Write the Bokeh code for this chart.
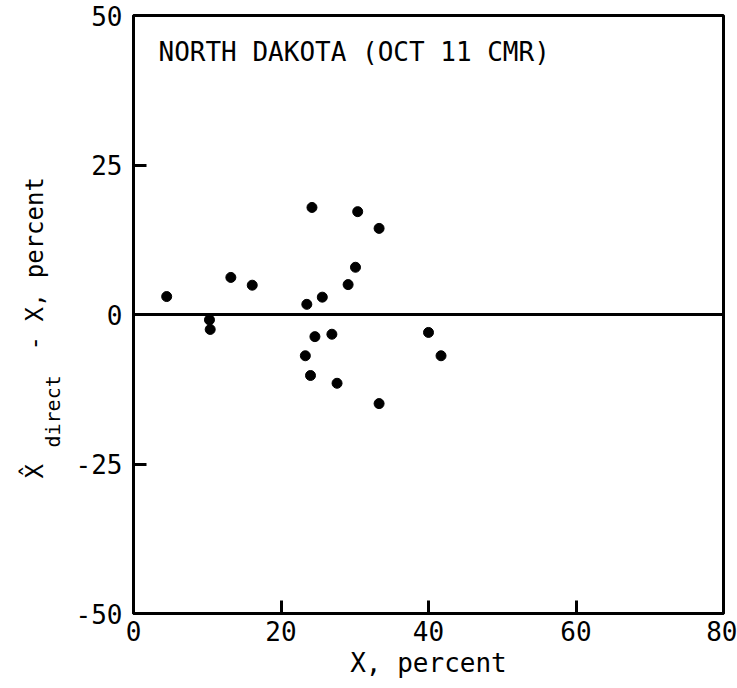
import math
from bokeh.plotting import figure
from bokeh.layouts import row
from bokeh.models import Range1d, FixedTicker, Span, Label
from bokeh.embed import file_html
from bokeh.resources import INLINE

# data
x_pct = [4.5, 10.3, 10.4, 13.2, 16.1, 23.5, 25.6, 29.1, 30.1, 24.2,
         30.4, 33.3, 24.6, 26.9, 23.3, 24.0, 27.6, 33.3, 40.0, 41.7]
diff_pct = [3.0, -0.9, -2.5, 6.2, 4.9, 1.7, 2.9, 5.0, 7.9, 17.9,
            17.2, 14.4, -3.7, -3.3, -6.9, -10.2, -11.5, -14.9, -3.0, -6.9]
x_ticks = [0, 20, 40, 60, 80]
y_ticks = [-50, -25, 0, 25, 50]
y_tick_labels = {t: str(t) for t in y_ticks}
title_text = "NORTH DAKOTA (OCT 11 CMR)"
x_label = "X, percent"
y_label_parts = ["X\u0302", "direct", "- X, percent"]

MONO = "DejaVu Sans Mono"
H = 688
LW = 70
FRAME_TOP, FRAME_BOTTOM = 15, 613

# narrow panel that carries the rotated y-axis title; its frame is aligned
# with the main frame, so its y range is set to page pixels
lab = figure(width=LW, height=H, output_backend="svg", toolbar_location=None,
             x_range=Range1d(0, LW), y_range=Range1d(FRAME_BOTTOM, FRAME_TOP),
             x_axis_type=None, y_axis_type=None,
             min_border=0, outline_line_color=None)
lab.grid.visible = False
lab.background_fill_color = "white"
lab.border_fill_color = "white"
lab.add_layout(Label(x=34, y=478, text=y_label_parts[0], angle=math.pi / 2,
                     text_font=MONO, text_font_size="24px",
                     text_baseline="alphabetic", text_align="left", text_color="black"))
lab.add_layout(Label(x=52, y=447, text=y_label_parts[1], angle=math.pi / 2,
                     text_font=MONO, text_font_size="20px",
                     text_baseline="alphabetic", text_align="left", text_color="black"))
lab.add_layout(Label(x=34, y=350, text=y_label_parts[2], angle=math.pi / 2,
                     text_font=MONO, text_font_size="24px",
                     text_baseline="alphabetic", text_align="left", text_color="black"))

p = figure(width=737 - LW, height=H, output_backend="svg", toolbar_location=None,
           x_range=Range1d(0, 80), y_range=Range1d(-50, 50),
           min_border_left=133 - LW, min_border_right=14, min_border_top=FRAME_TOP,
           min_border_bottom=H - FRAME_BOTTOM)
p.background_fill_color = "white"
p.border_fill_color = "white"
p.grid.visible = False
p.outline_line_color = "black"
p.outline_line_width = 3
p.outline_line_alpha = 1

for ax in (p.xaxis[0], p.yaxis[0]):
    ax.axis_line_width = 3
    ax.axis_line_color = "black"
    ax.major_tick_in = 13
    ax.major_tick_out = 0
    ax.major_tick_line_width = 3
    ax.major_tick_line_color = "black"
    ax.minor_tick_line_color = None
    ax.major_label_text_font = MONO
    ax.major_label_text_font_size = "26px"
    ax.major_label_text_color = "black"

p.xaxis.ticker = FixedTicker(ticks=x_ticks)
p.yaxis.ticker = FixedTicker(ticks=y_ticks)
p.yaxis.major_label_overrides = y_tick_labels
p.xaxis.major_label_standoff = 7
p.yaxis.major_label_standoff = 11
p.xaxis.axis_label = x_label
p.xaxis.axis_label_text_font = MONO
p.xaxis.axis_label_text_font_size = "26px"
p.xaxis.axis_label_text_font_style = "normal"
p.xaxis.axis_label_text_color = "black"
p.xaxis.axis_label_standoff = 4

p.add_layout(Span(location=0, dimension="width", line_color="black", line_width=3))

p.scatter(x_pct, diff_pct, marker="circle", size=10, color="black")

p.add_layout(Label(x=3.39, y=43.9, text=title_text, text_font=MONO,
                   text_font_size="26px", text_baseline="alphabetic",
                   text_color="black"))

layout = row(lab, p, spacing=0)
open("out.html", "w").write(file_html(layout, INLINE))
